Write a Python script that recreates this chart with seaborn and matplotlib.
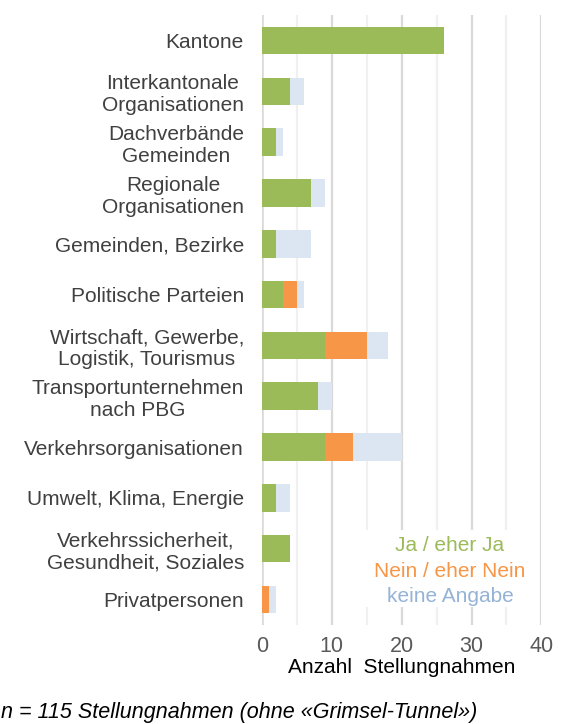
import pandas as pd
import matplotlib.pyplot as plt
import seaborn as sns
from matplotlib.patches import Rectangle
from matplotlib.ticker import MultipleLocator

# --- data ---
groups = [
    "Kantone",
    "Interkantonale\nOrganisationen",
    "Dachverbände\nGemeinden",
    "Regionale\nOrganisationen",
    "Gemeinden, Bezirke",
    "Politische Parteien",
    "Wirtschaft, Gewerbe,\nLogistik, Tourismus",
    "Transportunternehmen\nnach PBG",
    "Verkehrsorganisationen",
    "Umwelt, Klima, Energie",
    "Verkehrssicherheit,\nGesundheit, Soziales",
    "Privatpersonen",
]
ja = [26, 4, 2, 7, 2, 3, 9, 8, 9, 2, 4, 0]
nein = [0, 0, 0, 0, 0, 2, 6, 0, 4, 0, 0, 1]
keine = [0, 2, 1, 2, 5, 1, 3, 2, 7, 2, 0, 1]

series_labels = ["Ja / eher Ja", "Nein / eher Nein", "keine Angabe"]
bar_colors = ["#9BBB59", "#F79646", "#DCE6F2"]
text_colors = ["#9BBB59", "#F79646", "#95B3D7"]

df = pd.DataFrame({"Gruppe": groups, "Ja": ja, "Nein": nein, "Keine": keine})
df["cum_nein"] = df["Ja"] + df["Nein"]
df["cum_keine"] = df["cum_nein"] + df["Keine"]

sns.set_style("white")
plt.rcParams["font.family"] = ["Liberation Sans", "DejaVu Sans"]

fig, ax = plt.subplots(figsize=(5.61, 7.24), dpi=100)
fig.subplots_adjust(left=0.467, right=0.965, top=0.979, bottom=0.137)

# stacked bars: draw totals first, then overlay the smaller sums
sns.barplot(data=df, y="Gruppe", x="cum_keine", color=bar_colors[2], orient="h",
            width=0.54, saturation=1, ax=ax, linewidth=0)
sns.barplot(data=df, y="Gruppe", x="cum_nein", color=bar_colors[1], orient="h",
            width=0.54, saturation=1, ax=ax, linewidth=0)
sns.barplot(data=df, y="Gruppe", x="Ja", color=bar_colors[0], orient="h",
            width=0.54, saturation=1, ax=ax, linewidth=0)

ax.set_xlim(0, 40)
ax.set_ylim(11.5, -0.5)
ax.xaxis.set_major_locator(MultipleLocator(10))
ax.xaxis.set_minor_locator(MultipleLocator(5))
ax.grid(True, axis="x", which="major", color="#D9D9D9", linewidth=1.6)
ax.grid(True, axis="x", which="minor", color="#F0F0F0", linewidth=1.6)
ax.set_axisbelow(True)
ax.axvline(0, color="#D9D9D9", linewidth=1.8, zorder=0.5)
for s in ax.spines.values():
    s.set_visible(False)

ax.tick_params(axis="x", which="both", length=0, labelsize=15.5, labelcolor="#595959", pad=8)
ax.tick_params(axis="y", length=0, labelsize=15, labelcolor="#404040", pad=13)
for t in ax.get_yticklabels():
    t.set_multialignment("center")

ax.set_ylabel("")
ax.set_xlabel("Anzahl  Stellungnahmen", fontsize=15, color="black", labelpad=1)

# legend: coloured text lines on a white box
ax.add_patch(Rectangle((0.37, 0.03), 0.59, 0.126, transform=ax.transAxes,
                       facecolor="white", edgecolor="none", zorder=1.5))
for i, (lab, c) in enumerate(zip(series_labels, text_colors)):
    ax.text(0.673, 0.13 - i * 0.042, lab, transform=ax.transAxes, fontsize=15,
            color=c, ha="center", va="center", zorder=3)

fig.text(0.001, 0.016, "n = 115 Stellungnahmen (ohne «Grimsel-Tunnel»)",
         fontsize=15.5, style="italic", color="black", ha="left", va="center")

plt.savefig("out.png", dpi=100)
